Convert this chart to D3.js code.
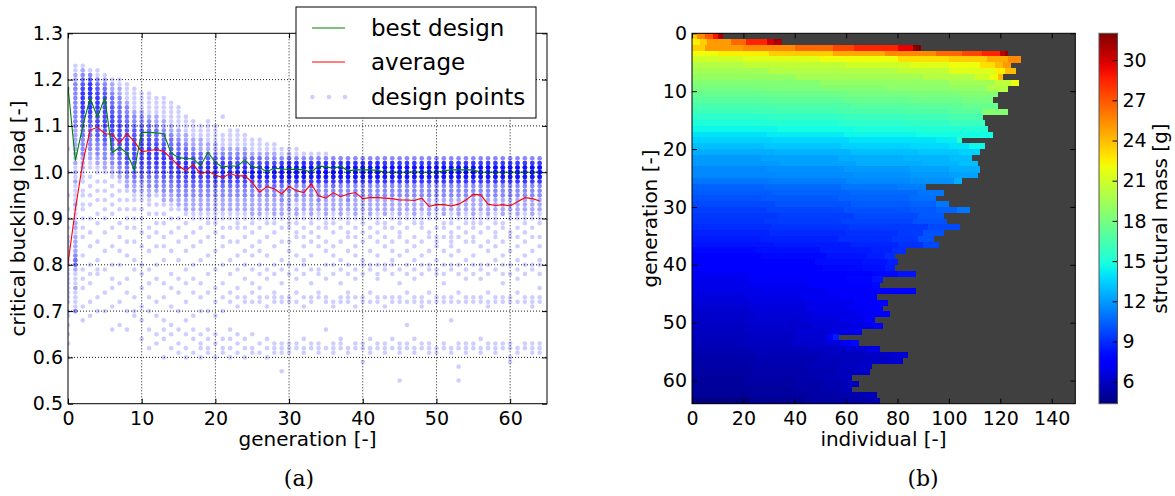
<!DOCTYPE html>
<html><head><meta charset="utf-8">
<script src="https://cdn.jsdelivr.net/npm/d3@7"></script>
<style>
body{margin:0;background:#fff}
svg text{font-family:"DejaVu Sans",sans-serif;fill:#000}
</style></head>
<body><svg id="c" width="1175" height="496"></svg>
<script>
// ---------------- data (a) ----------------
const generation = [0,1,2,3,4,5,6,7,8,9,10,11,12,13,14,15,16,17,18,19,20,21,22,23,24,25,26,27,28,29,30,31,32,33,34,35,36,37,38,39,40,41,42,43,44,45,46,47,48,49,50,51,52,53,54,55,56,57,58,59,60,61,62,63,64];
const bestDesign = [1.185,1.025,1.099,1.160,1.119,1.161,1.042,1.054,1.041,1.005,1.086,1.086,1.085,1.083,1.041,1.032,1.029,1.029,1.014,1.043,1.021,1.011,1.014,1.013,1.027,1.011,1.010,1.001,1.009,1.007,1.006,1.006,1.005,1.000,1.013,1.012,1.008,1.013,1.003,1.005,1.005,1.005,1.004,1.000,1.000,1.000,1.000,1.001,1.000,1.000,1.000,1.003,1.005,1.005,1.005,1.005,1.000,1.000,1.000,1.000,1.000,1.000,1.000,1.000,1.000];
const averageLoad = [0.803,0.92,1.02,1.091,1.097,1.083,1.082,1.063,1.083,1.066,1.044,1.047,1.049,1.045,1.030,1.014,1.003,1.017,0.996,1.002,0.994,0.988,0.997,0.992,0.992,0.978,0.957,0.969,0.964,0.953,0.969,0.960,0.956,0.975,0.949,0.944,0.956,0.947,0.953,0.956,0.943,0.945,0.945,0.944,0.943,0.940,0.940,0.939,0.944,0.926,0.930,0.930,0.927,0.931,0.940,0.952,0.951,0.931,0.928,0.930,0.927,0.936,0.945,0.943,0.938];
// design points per generation, in hundredths; "v*n" = n points at v
const designPoints = [
"60 63 65 67 69 70 72 73 74 75 76 77 78 79 80 80 81 82 83 84 85 86 88 90 92 95 100 105 118",
"70*3 71 72 73 74 75*2 76 77 78 79*2 80*4 81*4 82*3 83*2 84*2 85*2 86*2 87 88*2 89*2 90 91 92 93*2 94 95 96 97 98*2 99 100*2 101 102*2 103 104*2 105*2 106*2 107*2 108*2 109*2 110*3 111*3 112*3 113*3 114*3 115*3 116*3 117*3 118*3 119*3 120*2 121*2 122 123",
"68 71 75 77 79 82 86 88 90 92 93 95 96 98 99 100 101*2 102*2 103*2 104*3 105*3 106*3 107*3 108*4 109*4 110*5 111*5 112*6 113*7 114*7 115*7 116*7 117*7 118*6 119*5 120*4 121*3 122*2 123",
"69 72 76 78 80 84 87 90 93 95 97 99 101 102 103*2 104*2 105*3 106*3 107*3 108*4 109*4 110*4 111*5 112*6 113*7 114*8 115*8 116*8 117*8 118*8 119*7 120*5 121*3 122",
"70 73 78 79 81 85 89 91 94 96 98 100 101 102*2 103*2 104*3 105*3 106*3 107*4 108*5 109*5 110*6 111*6 112*6 113*6 114*7 115*7 116*7 117*6 118*5 119*4 120*3 121 122",
"70 74 79 83 87 90 92 94 96 98 100 101*2 102*2 103*3 104*3 105*3 106*4 107*5 108*5 109*5 110*6 111*6 112*6 113*6 114*6 115*6 116*6 117*5 118*4 119*3 120*2 121",
"66 71 75 77 80 84 88 91 93 95 97 99 100*2 101*2 102*3 103*3 104*4 105*5 106*5 107*6 108*6 109*6 110*6 111*6 112*6 113*5 114*5 115*4 116*4 117*3 118*2 119*2 120",
"67 72 76 80 83 86 89 92 94 96 98 99*2 100*3 101*3 102*4 103*4 104*5 105*6 106*6 107*6 108*6 109*6 110*6 111*5 112*5 113*4 114*4 115*3 116*3 117*2 118*2 119 120",
"66 70 74 77 82 85 88 90 92 94 96 97*2 98*2 99*3 100*4 101*4 102*5 103*6 104*6 105*6 106*6 107*6 108*6 109*5 110*5 111*4 112*4 113*3 114*3 115*2 116 117 118 119",
"69 70 73 79 81 85 88 90 92 94 95 96*2 97*2 98*3 99*4 100*5 101*5 102*6 103*6 104*6 105*6 106*6 107*6 108*5 109*5 110*4 111*3 112*3 113*2 114 115 116 117 118",
"64 68 71 75 78 80 84 87 90 92 94 95 96*2 97*2 98*3 99*4 100*5 101*5 102*6 103*6 104*6 105*6 106*6 107*6 108*5 109*5 110*4 111*3 112*3 113*2 114 115 116 117",
"62 66 70 73 76 79 83 86 88 91 93 94 95*2 96*2 97*3 98*3 99*4 100*5 101*6 102*6 103*7 104*7 105*7 106*6 107*6 108*5 109*4 110*4 111*3 112*2 113 114 115 116 117",
"63 65 69 72 77 80 84 87 89 91 93 95 96*2 97*3 98*3 99*4 100*5 101*6 102*7 103*7 104*7 105*7 106*6 107*5 108*4 109*4 110*3 111*2 112*2 113 114 115 116",
"60 64 66 68 73 76 81 84 86 89 91 93 94*2 95*2 96*3 97*3 98*4 99*5 100*6 101*6 102*7 103*7 104*7 105*6 106*5 107*4 108*4 109*3 110*2 111*2 112 113 114 115 116",
"62 65 67 71 75 78 83 87 90 92 93 94*2 95*2 96*3 97*3 98*4 99*5 100*6 101*7 102*7 103*7 104*6 105*5 106*4 107*4 108*3 109*2 110*2 111 112 113 114 115",
"61 63 66 70 74 77 81 85 88 90 92 93*2 94*2 95*3 96*3 97*4 98*5 99*6 100*7 101*8 102*8 103*7 104*6 105*4 106*4 107*3 108*2 109*2 110 111 112 113 114",
"60 62 65 68 72 76 79 83 86 89 91 92*2 93*2 94*2 95*3 96*3 97*4 98*5 99*6 100*7 101*8 102*8 103*7 104*5 105*4 106*3 107*2 108*2 109 110 111 112",
"61 64 66 69 74 77 80 84 87 90 91 92*2 93*2 94*2 95*3 96*3 97*4 98*5 99*7 100*8 101*8 102*7 103*6 104*4 105*3 106*2 107*2 108 109 110 111",
"60 62 63 65 70 73 76 81 85 88 90 91 92*2 93*2 94*2 95*3 96*3 97*4 98*5 99*7 100*8 101*8 102*7 103*5 104*4 105*2 106*2 107*2 108 109 110",
"61 62 64 66 70 74 78 82 86 89 90 91 92*2 93*2 94*2 95*3 96*3 97*4 98*5 99*7 100*8 101*8 102*7 103*5 104*4 105*2 106*2 107 108 109 110 111",
"60 63 65 69 72 75 79 83 87 89 90 91 92*2 93*2 94*2 95*3 96*3 97*4 98*6 99*8 100*9 101*9 102*7 103*5 104*3 105*2 106*2 107 108 109 110",
"61 62 64 70 73 76 80 84 86 88 90 91 92*2 93*2 94*2 95*3 96*3 97*4 98*6 99*8 100*9 101*9 102*7 103*5 104*3 105*2 106 107 108 112",
"60 62 64 66 72 74 78 81 85 88 90 91 92*2 93*2 94*2 95*3 96*3 97*4 98*6 99*8 100*10 101*9 102*7 103*4 104*3 105*2 106 107 108 109",
"61 63 65 71 73 75 79 82 85 88 89 90 91 92*2 93*2 94*2 95*3 96*3 97*4 98*6 99*9 100*10 101*9 102*6 103*4 104*3 105*2 106 107 108 109",
"60 62 64 72 73 77 80 83 86 88 90 91 92*2 93*2 94*2 95*3 96*3 97*4 98*6 99*9 100*10 101*9 102*6 103*4 104*3 105*2 106 107 108",
"61 62 65 72 74 76 79 82 84 87 89 90 91*2 92*2 93*2 94*2 95*3 96*3 97*4 98*6 99*10 100*11 101*10 102*6 103*4 104*2 105 106 107",
"61 63 72 73 75 78 80 83 85 88 90 91*2 92*2 93*2 94*2 95*3 96*3 97*4 98*6 99*10 100*11 101*10 102*6 103*4 104*2 105 106 107",
"60 62 64 71 73 77 79 82 86 89 90 91 92*2 93*2 94*2 95*3 96*3 97*4 98*6 99*10 100*12 101*11 102*6 103*3 104*2 105 106",
"61 62 63 72 73 74 78 80 84 87 89 90 91*2 92*2 93*2 94*2 95*3 96*3 97*4 98*6 99*10 100*12 101*11 102*6 103*3 104*2 105 106",
"57 61 62 63 72 73 76 79 81 85 88 90 91*2 92*2 93*2 94*3 95*3 96*3 97*4 98*7 99*11 100*13 101*12 102*7 103*3 104 105",
"61 62 63 72 73 78 80 83 85 88 89 90 91 92*2 93*2 94*2 95*2 96*3 97*3 98*7 99*12 100*15 101*13 102*8 103*4 104*2 105",
"62 63 72 74 77 79 82 86 87 89 90 91*2 92*2 93 94*2 95*3 96*3 97*3 98*7 99*12 100*15 101*13 102*8 103*3 104 105",
"61 62 64 71 73 78 80 81 84 86 88 90 91 92*2 93*2 94*2 95*3 96*3 97*3 98*7 99*12 100*15 101*13 102*8 103*3 104",
"62 63 72 73 76 79 82 85 87 89 90 91*2 92*2 93*2 94*2 95*3 96*3 97*4 98*7 99*12 100*15 101*13 102*8 103*3 104",
"61 62 63 73 74 78 79 84 86 88 90 91 92*2 93*2 94*3 95*3 96*3 97*3 98*7 99*12 100*15 101*13 102*8 103*3 104",
"62 66 72 73 77 80 83 85 88 89 90 91*2 92*2 93*2 94*2 95*3 96*3 97*3 98*7 99*12 100*15 101*13 102*8 103*3 104",
"61 62 63 71 72 78 80 82 84 87 89 90 91 92*2 93*2 94*2 95*3 96*3 97*4 98*7 99*12 100*15 101*13 102*8 103*3",
"62 63 64 72 73 76 79 81 85 88 90 91*2 92*2 93*2 94*2 95*3 96*3 97*3 98*7 99*12 100*15 101*13 102*8 103*3",
"61 62 72 73 74 78 80 83 86 87 89 90 91 92*2 93*2 94*3 95*3 96*3 97*3 98*7 99*12 100*15 101*13 102*8 103*3",
"62 63 71 73 77 79 82 84 86 88 90 91*2 92*2 93*2 94*2 95*3 96*3 97*3 98*7 99*12 100*15 101*13 102*8 103*3",
"59 62 63 72 73 78 80 81 85 87 89 90 91 92*2 93*2 94*2 95*3 96*3 97*3 98*7 99*12 100*15 101*13 102*8 103*3",
"61 62 64 72 74 79 80 83 86 88 90 91*2 92*2 93*2 94*2 95*3 96*3 97*3 98*7 99*12 100*15 101*13 102*8 103*3",
"62 63 72 73 77 78 80 82 85 87 89 90 91 92*2 93*2 94*2 95*3 96*3 97*3 98*7 99*12 100*15 101*13 102*8 103*3",
"61 62 63 71 73 79 80 84 86 88 89 91*2 92*2 93*2 94*2 95*3 96*3 97*3 98*7 99*12 100*15 101*13 102*7 103*3",
"62 64 72 73 78 80 81 83 85 88 90 91 92*2 93*2 94*2 95*3 96*3 97*3 98*7 99*12 100*15 101*13 102*7 103*3",
"55 61 62 63 72 73 76 79 82 86 87 89 90 91*2 92*2 93*2 94*2 95*3 96*3 97*3 98*7 99*12 100*15 101*13 102*7 103*3",
"62 63 67 72 74 78 80 83 85 88 90 91 92*2 93*2 94*2 95*3 96*3 97*3 98*7 99*12 100*15 101*13 102*7 103*3",
"61 62 64 72 73 77 79 81 84 86 89 90 91*2 92*2 93*2 94*2 95*3 96*3 97*3 98*7 99*12 100*15 101*13 102*7 103*3",
"62 63 71 72 73 78 80 82 85 88 89 90 91 92*2 93*2 94*2 95*3 96*3 97*3 98*7 99*12 100*15 101*13 102*7 103*3",
"61 62 63 72 74 79 80 83 86 87 90 91*2 92*2 93*2 94*2 95*3 96*3 97*3 98*7 99*12 100*16 101*13 102*7 103*3",
"61 62 72 73 78 79 81 84 85 86 88 90 91 92*2 93*2 94*2 95*3 96*3 97*3 98*7 99*12 100*16 101*13 102*7 103*3",
"62 63 72 73 76 78 80 83 86 88 89 91*2 92*2 93*2 94*2 95*3 96*3 97*3 98*7 99*12 100*16 101*13 102*7 103*3",
"61 62 68 72 73 79 80 82 84 85 86 87 89 90 91 92*2 93*2 94*2 95*3 96*3 97*3 98*7 99*12 100*16 101*13 102*7 103*3",
"55 58 62 63 72 74 78 80 83 86 88 90 91*2 92*2 93*2 94*2 95*3 96*3 97*3 98*7 99*12 100*16 101*13 102*7 103*3",
"61 62 63 72 73 77 79 81 85 87 89 90 91 92*2 93*2 94*2 95*3 96*3 97*3 98*7 99*12 100*16 101*13 102*7 103*3",
"62 63 72 73 78 80 82 85 86 88 89 90 91*2 92*2 93*2 94*2 95*3 96*3 97*3 98*7 99*12 100*16 101*13 102*7 103*3",
"61 62 64 72 73 77 79 80 84 87 89 90 91 92*2 93*2 94*2 95*3 96*3 97*3 98*7 99*12 100*16 101*13 102*7 103*3",
"62 63 71 72 74 78 80 83 85 88 90 91*2 92*2 93*2 94*2 95*3 96*3 97*3 98*7 99*12 100*16 101*13 102*7 103*3",
"61 62 63 72 73 79 81 84 86 87 89 90 91 92*2 93*2 94*2 95*3 96*3 97*3 98*7 99*12 100*16 101*13 102*7 103*3",
"62 63 72 73 76 78 80 82 85 88 89 91*2 92*2 93*2 94*2 95*3 96*3 97*3 98*7 99*12 100*16 101*13 102*7 103*3",
"59 60 62 63 72 73 78 80 83 86 87 90 91 92*2 93*2 94*2 95*3 96*3 97*3 98*7 99*12 100*16 101*13 102*7 103*3",
"61 62 72 74 77 79 81 84 86 88 90 91*2 92*2 93*2 94*2 95*3 96*3 97*3 98*7 99*12 100*16 101*13 102*7 103*3",
"62 63 72 73 78 80 82 85 87 89 90 91 92*2 93*2 94*2 95*3 96*3 97*3 98*7 99*12 100*16 101*13 102*7 103*3",
"61 62 63 71 72 73 79 80 83 86 88 90 91*2 92*2 93*2 94*2 95*3 96*3 97*3 98*7 99*12 100*16 101*13 102*7 103*3",
"61 62 63 72 73 75 78 80 81 84 86 89 90 91 92*2 93*2 94*2 95*3 96*3 97*3 98*7 99*12 100*16 101*13 102*7 103*3"
];
const xTicksA = [0,10,20,30,40,50,60];
const yTicksA = [0.5,0.6,0.7,0.8,0.9,1.0,1.1,1.2,1.3];
const legendLabels = ["best design","average","design points"];

// ---------------- data (b) ----------------
// number of individuals shown per generation row
const rowWidths = [12,35,89,123,128,124,126,121,127,123,119,117,119,123,113,114,115,117,105,114,112,109,111,112,111,105,91,98,95,100,108,98,99,104,98,94,96,83,79,80,79,87,74,73,87,72,76,74,77,71,74,66,57,65,73,84,82,70,69,62,65,62,72,73];
// structural mass [g] along each row: [first individual, mass]
const rowMass = [
[[0,23.5],[2,25.5],[5,27],[8,29],[10,31]],
[[0,22.5],[3,23.5],[6,25],[15,26.5],[21,28.5],[29,30],[32,31]],
[[0,23.5],[5,25],[20,25.5],[40,26.5],[55,27.5],[63,28.5],[80,29.5],[86,32]],
[[0,22],[10,22.5],[30,23.5],[55,24.5],[75,25.5],[95,26.5],[105,27.5],[113,28.5],[120,30.5],[122,31.5]],
[[0,21],[20,21.5],[50,22],[80,23],[100,23.5],[115,24.5],[123,25.5]],
[[0,20],[20,20.5],[60,21],[85,21.5],[100,22],[112,23],[118,24],[121,25]],
[[0,19.5],[30,20],[80,20.5],[100,21.5],[118,22.5],[122,24]],
[[0,19],[40,19.5],[90,20],[110,21],[116,22],[119,24]],
[[0,18.5],[50,19],[100,19.5],[118,20.5],[124,22]],
[[0,18],[25,18.2],[50,18.5],[75,18.7],[100,19],[115,20]],
[[0,17.5],[30,17.7],[60,18],[85,18.2],[105,18.5]],
[[0,17],[28,17.2],[58,17.5],[85,17.7],[105,18]],
[[0,16.5],[32,16.7],[62,17],[88,17.2],[105,17.5]],
[[0,16],[26,16.2],[56,16.5],[82,16.7],[100,17],[113,18.5]],
[[0,15.5],[30,15.7],[60,16],[84,16.2],[100,16.5]],
[[0,15],[27,15.2],[57,15.5],[83,15.7],[100,16]],
[[0,14.5],[33,14.7],[63,15],[90,15.2]],
[[0,14],[29,14.2],[59,14.5],[87,14.7]],
[[0,13.5],[31,13.7],[61,14],[95,14.2],[103,15.5]],
[[0,13],[28,13.2],[58,13.5],[85,13.7],[100,14],[108,14.5]],
[[0,12.5],[32,12.7],[62,13],[88,13.2],[104,13.5]],
[[0,12],[27,12.2],[57,12.5],[82,12.7],[100,13]],
[[0,12],[34,12.2],[64,12.5],[90,12.7],[104,13]],
[[0,11.5],[29,11.7],[59,12],[85,12.2],[100,12.5]],
[[0,11.5],[33,11.6],[63,11.8],[85,12],[100,12.2]],
[[0,11],[30,11.2],[60,11.5],[85,11.7],[102,12.5]],
[[0,10.5],[28,10.7],[58,11],[80,11.2]],
[[0,10.3],[31,10.5],[61,10.7],[88,11]],
[[0,10],[27,10.2],[57,10.5],[85,10.8]],
[[0,9.8],[32,10],[62,10.3],[85,10.5],[95,11]],
[[0,9.5],[29,9.7],[59,10],[85,10.2],[95,10.5],[103,11]],
[[0,9.3],[33,9.5],[63,9.8],[88,10.2]],
[[0,9.2],[28,9.4],[58,9.6],[86,10]],
[[0,9],[31,9.2],[61,9.4],[92,9.8]],
[[0,8.7],[30,8.9],[60,9.1],[80,9.4],[90,10]],
[[0,8.5],[27,8.7],[57,9],[78,9.3],[88,10]],
[[0,8.3],[32,8.5],[62,8.8],[80,9.1],[90,9.7]],
[[0,8],[25,8.2],[50,8.5],[70,8.7],[78,9]],
[[0,7.8],[27,8],[52,8.3],[68,8.6],[75,9]],
[[0,7.6],[24,7.8],[48,8.1],[66,8.3],[76,8.6]],
[[0,7.4],[26,7.7],[51,8],[66,8.2],[75,8.5]],
[[0,7.2],[23,7.4],[49,7.7],[70,8],[80,8.3]],
[[0,7],[22,7.3],[44,7.6],[60,7.9],[70,8.3]],
[[0,6.9],[24,7.1],[46,7.4],[60,7.7],[70,8]],
[[0,6.8],[26,7],[52,7.3],[70,7.5],[80,7.8]],
[[0,6.6],[21,6.8],[43,7.1],[58,7.3],[68,7.6]],
[[0,6.5],[23,6.7],[47,7],[63,7.3],[72,7.6]],
[[0,6.3],[22,6.6],[44,6.9],[60,7.2],[70,7.5]],
[[0,6.2],[24,6.5],[47,6.8],[64,7.1],[72,7.5]],
[[0,6.1],[21,6.3],[43,6.6],[58,6.9],[67,7.3]],
[[0,6],[23,6.2],[46,6.5],[62,6.8],[70,7.2]],
[[0,5.9],[20,6.1],[40,6.4],[54,6.7],[62,7]],
[[0,5.8],[21,6],[40,6.3],[52,7.2],[55,8.5]],
[[0,5.7],[19,5.9],[39,6.2],[52,6.6],[58,7.2],[62,8]],
[[0,5.6],[22,5.8],[45,6],[60,6.3],[68,6.7]],
[[0,5.5],[25,5.7],[50,5.9],[68,6.1],[78,6.4]],
[[0,5.4],[24,5.6],[48,5.8],[66,6],[76,6.2]],
[[0,5.3],[22,5.5],[44,5.7],[57,5.9],[65,6.1]],
[[0,5.2],[23,5.4],[45,5.6],[57,5.8],[64,6]],
[[0,5.1],[20,5.3],[40,5.5],[51,5.7],[58,5.9]],
[[0,5],[21,5.2],[41,5.4],[53,5.6],[60,5.8]],
[[0,5],[19,5.1],[39,5.3],[50,5.5],[58,5.7]],
[[0,4.9],[23,5.1],[45,5.3],[58,5.5],[66,5.7]],
[[0,4.4],[22,4.8],[44,5.2],[58,5.4],[68,5.6]]
];
const xTicksB = [0,20,40,60,80,100,120,140];
const yTicksB = [0,10,20,30,40,50,60];
const cbTicks = [6,9,12,15,18,21,24,27,30];
const massRange = [4.36, 32.0];

// ---------------- helpers ----------------
function jet(t){
  t = Math.max(0, Math.min(1, t));
  const seg = (pts) => { for (let i=1;i<pts.length;i++){ if (t<=pts[i][0]){ const a=pts[i-1],b=pts[i]; return a[1]+(b[1]-a[1])*(t-a[0])/(b[0]-a[0]); } } return pts[pts.length-1][1]; };
  const r = seg([[0,0],[0.35,0],[0.66,1],[0.89,1],[1,0.5]]);
  const g = seg([[0,0],[0.125,0],[0.375,1],[0.64,1],[0.91,0],[1,0]]);
  const b = seg([[0,0.5],[0.11,1],[0.34,1],[0.65,0],[1,0]]);
  return d3.rgb(r*255, g*255, b*255).formatHex();
}
function parsePts(s){ const out=[]; s.trim().split(/\s+/).forEach(tok=>{ const p=tok.split('*'); const n=p.length>1?+p[1]:1; for(let i=0;i<n;i++) out.push(+p[0]/100); }); return out; }

const svg = d3.select("#c");
const FS = 19;
const PT_ALPHA = 0.19;

// ================= (a) =================
const xA = d3.scaleLinear().domain([0,65]).range([68,547]);
const yA = d3.scaleLinear().domain([0.5,1.3]).range([403.7,33.3]);
svg.append("defs").append("clipPath").attr("id","clipA").append("rect")
  .attr("x",68).attr("y",33.3).attr("width",479).attr("height",370.4);

const gA = svg.append("g");
const dataG = gA.append("g").attr("clip-path","url(#clipA)");
const pts = [];
designPoints.forEach((s,i)=>parsePts(s).forEach(v=>pts.push([generation[i],v])));
dataG.selectAll("circle").data(pts).join("circle")
  .attr("cx",d=>xA(d[0])).attr("cy",d=>yA(d[1])).attr("r",2.3)
  .attr("fill","#0000ff").attr("fill-opacity",PT_ALPHA);
const lineA = (arr)=>d3.line().x((d,i)=>xA(generation[i])).y(d=>yA(d))(arr);
dataG.append("path").attr("d",lineA(averageLoad)).attr("fill","none").attr("stroke","#ff0000").attr("stroke-width",1.1);
dataG.append("path").attr("d",lineA(bestDesign)).attr("fill","none").attr("stroke","#008000").attr("stroke-width",1.1);

// grid (dotted)
const grid = gA.append("g");
xTicksA.filter(v=>v>0).forEach(v=>grid.append("line").attr("x1",xA(v)).attr("x2",xA(v)).attr("y1",33.3).attr("y2",403.7));
yTicksA.filter(v=>v>0.5&&v<1.3).forEach(v=>grid.append("line").attr("x1",68).attr("x2",547).attr("y1",yA(v)).attr("y2",yA(v)));
grid.selectAll("line").attr("stroke","#000").attr("stroke-width",0.9).attr("stroke-dasharray","1,2");

// axes
function styleAxis(g){ g.select(".domain").remove(); g.selectAll("text").attr("font-size",FS).attr("font-family","DejaVu Sans"); g.selectAll("line").attr("stroke","#000"); }
gA.append("g").attr("transform","translate(0,403.7)")
  .call(d3.axisBottom(xA).tickValues(xTicksA).tickSizeInner(-5).tickSizeOuter(0).tickPadding(8).tickFormat(d3.format("d"))).call(styleAxis);
gA.append("g").attr("transform","translate(0,33.3)")
  .call(d3.axisTop(xA).tickValues(xTicksA).tickSizeInner(-5).tickSizeOuter(0).tickFormat("")).call(styleAxis);
gA.append("g").attr("transform","translate(68,0)")
  .call(d3.axisLeft(yA).tickValues(yTicksA).tickSizeInner(-5).tickSizeOuter(0).tickPadding(5).tickFormat(d3.format(".1f"))).call(styleAxis);
gA.append("g").attr("transform","translate(547,0)")
  .call(d3.axisRight(yA).tickValues(yTicksA).tickSizeInner(-5).tickSizeOuter(0).tickFormat("")).call(styleAxis);
gA.append("rect").attr("x",68).attr("y",33.3).attr("width",479).attr("height",370.4).attr("fill","none").attr("stroke","#000").attr("stroke-width",1);

svg.append("text").attr("x",307.5).attr("y",446).attr("text-anchor","middle").attr("font-size",20).text("generation [-]");
svg.append("text").attr("transform","translate(25,218.5) rotate(-90)").attr("text-anchor","middle").attr("font-size",20).text("critical buckling load [-]");

// legend
const lg = svg.append("g");
lg.append("rect").attr("x",296).attr("y",7).attr("width",240).attr("height",111).attr("fill","#fff").attr("stroke","#000").attr("stroke-width",1);
const legY = [28,62,97];
lg.append("line").attr("x1",312).attr("x2",345).attr("y1",legY[0]).attr("y2",legY[0]).attr("stroke","#008000").attr("stroke-width",1.1);
lg.append("line").attr("x1",312).attr("x2",345).attr("y1",legY[1]).attr("y2",legY[1]).attr("stroke","#ff0000").attr("stroke-width",1.1);
[312.5,329,345].forEach(x=>lg.append("circle").attr("cx",x).attr("cy",legY[2]).attr("r",2.3).attr("fill","#0000ff").attr("fill-opacity",PT_ALPHA));
legendLabels.forEach((t,i)=>lg.append("text").attr("x",371).attr("y",legY[i]).attr("dy","0.35em").attr("font-size",23).text(t));

svg.append("text").attr("x",299).attr("y",486).attr("text-anchor","middle").attr("font-size",22).style("font-family","'DejaVu Serif',serif").text("(a)");

// ================= (b) =================
const xB = d3.scaleLinear().domain([0,149.2]).range([692,1075.3]);
const yB = d3.scaleLinear().domain([0,64]).range([33.3,403.7]);
const color = d3.scaleSequential(t=>jet(t)).domain(massRange);
const gB = svg.append("g");
gB.append("rect").attr("x",692).attr("y",33.3).attr("width",383.3).attr("height",370.4).attr("fill","#404040");
const cells = [];
rowMass.forEach((segs,r)=>{
  segs.forEach((s,j)=>{
    const end = j<segs.length-1 ? segs[j+1][0] : rowWidths[r];
    cells.push({r, x0:s[0], x1:Math.min(end,rowWidths[r]), v:s[1]});
  });
});
gB.append("g").attr("shape-rendering","crispEdges").selectAll("rect").data(cells).join("rect")
  .attr("x",d=>xB(d.x0)).attr("y",d=>yB(d.r))
  .attr("width",d=>xB(d.x1)-xB(d.x0)+0.4).attr("height",d=>yB(d.r+1)-yB(d.r)+0.4)
  .attr("fill",d=>color(d.v));

gB.append("g").attr("transform","translate(0,403.7)")
  .call(d3.axisBottom(xB).tickValues(xTicksB).tickSizeInner(-5).tickSizeOuter(0).tickPadding(8)).call(styleAxis);
gB.append("g").attr("transform","translate(0,33.3)")
  .call(d3.axisTop(xB).tickValues(xTicksB).tickSizeInner(-5).tickSizeOuter(0).tickFormat("")).call(styleAxis);
gB.append("g").attr("transform","translate(692,0)")
  .call(d3.axisLeft(yB).tickValues(yTicksB).tickSizeInner(-5).tickSizeOuter(0).tickPadding(5)).call(styleAxis);
gB.append("g").attr("transform","translate(1075.3,0)")
  .call(d3.axisRight(yB).tickValues(yTicksB).tickSizeInner(-5).tickSizeOuter(0).tickFormat("")).call(styleAxis);
gB.append("rect").attr("x",692).attr("y",33.3).attr("width",383.3).attr("height",370.4).attr("fill","none").attr("stroke","#000").attr("stroke-width",1);

svg.append("text").attr("x",883.5).attr("y",446).attr("text-anchor","middle").attr("font-size",20).text("individual [-]");
svg.append("text").attr("transform","translate(657,218.5) rotate(-90)").attr("text-anchor","middle").attr("font-size",20).text("generation [-]");

// colorbar
const yC = d3.scaleLinear().domain(massRange).range([403.7,33.3]);
const grad = svg.select("defs").append("linearGradient").attr("id","jetGrad").attr("x1",0).attr("y1",1).attr("x2",0).attr("y2",0);
d3.range(0,1.0001,0.02).forEach(t=>grad.append("stop").attr("offset",t).attr("stop-color",jet(t)));
svg.append("rect").attr("x",1099).attr("y",33.3).attr("width",18.5).attr("height",370.4).attr("fill","url(#jetGrad)");
svg.append("g").attr("transform","translate(1117.5,0)")
  .call(d3.axisRight(yC).tickValues(cbTicks).tickSizeInner(-5).tickSizeOuter(0).tickPadding(5)).call(styleAxis);
svg.append("rect").attr("x",1099).attr("y",33.3).attr("width",18.5).attr("height",370.4).attr("fill","none").attr("stroke","#555").attr("stroke-width",1);
svg.append("text").attr("transform","translate(1167,218.5) rotate(-90)").attr("text-anchor","middle").attr("font-size",20).text("structural mass [g]");

svg.append("text").attr("x",923).attr("y",486).attr("text-anchor","middle").attr("font-size",22).style("font-family","'DejaVu Serif',serif").text("(b)");
</script></body></html>
